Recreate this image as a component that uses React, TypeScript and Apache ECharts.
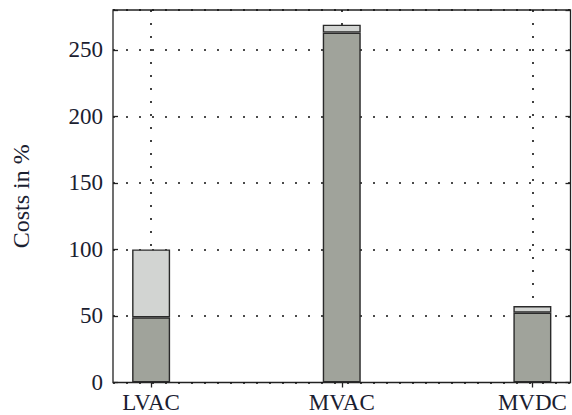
import React, { useEffect, useRef } from "react";
import * as echarts from "echarts";

const categories = ["LVAC", "MVAC", "MVDC"];
const lowerValues = [49, 263, 52.5];
const upperValues = [51, 6, 5];
const yTicks = [0, 50, 100, 150, 200, 250];

// category slots: 13 evenly spaced positions, categories at slots 1, 6, 11
const slotCount = 13;
const categorySlots = [1, 6, 11];

export default function App() {
  const ref = useRef<HTMLDivElement>(null);
  useEffect(() => {
    if (!ref.current) return;
    const chart = echarts.init(ref.current, null, { renderer: "svg" });
    const slotLabels: string[] = Array.from({ length: slotCount }, () => "");
    categorySlots.forEach((s, i) => (slotLabels[s] = categories[i]));
    const toSlots = (vals: number[]) => {
      const arr: (number | string)[] = Array.from({ length: slotCount }, () => "-");
      categorySlots.forEach((s, i) => (arr[s] = vals[i]));
      return arr;
    };
    const isCat = (idx: number) => categorySlots.includes(idx);
    const font = "'Liberation Serif', 'DejaVu Serif', serif";
    const borderColor = "#2a2a2a";
    chart.setOption({
      animation: false,
      grid: {
        left: 113,
        right: 1.5,
        top: 10,
        bottom: 32.5,
        show: true,
        borderColor: "#222",
        borderWidth: 1.3,
        containLabel: false,
      },
      xAxis: [
        {
          type: "category",
          data: slotLabels,
          boundaryGap: false,
          axisLine: { show: false },
          axisTick: { show: true, inside: true, length: 5, interval: (i: number) => isCat(i), lineStyle: { color: "#222", width: 1.3 } },
          axisLabel: {
            interval: (i: number) => isCat(i),
            color: "#1a2030",
            fontFamily: font,
            fontSize: 23,
            margin: 8,
          },
          splitLine: {
            show: true,
            interval: (i: number) => isCat(i),
            lineStyle: { color: "#111", width: 1.6, type: [2, 11] },
          },
        },
        {
          type: "category",
          data: slotLabels,
          boundaryGap: false,
          position: "top",
          axisLine: { show: false },
          axisTick: { show: true, inside: true, length: 5, interval: (i: number) => isCat(i), lineStyle: { color: "#222", width: 1.3 } },
          axisLabel: { show: false },
          splitLine: { show: false },
        },
      ],
      yAxis: [
        {
          type: "value",
          min: 0,
          max: 280,
          interval: 50,
          name: "Costs in %",
          nameLocation: "middle",
          nameGap: 80,
          nameTextStyle: { fontFamily: font, fontSize: 24, color: "#1a2030" },
          axisLine: { show: false },
          axisTick: { show: true, inside: true, length: 5, lineStyle: { color: "#222", width: 1.3 } },
          axisLabel: {
            color: "#1a2030",
            fontFamily: font,
            fontSize: 23,
            margin: 10,
            formatter: (v: number) => (yTicks.includes(v) ? String(v) : ""),
          },
          splitLine: {
            show: true,
            lineStyle: { color: "#111", width: 1.6, type: [2, 11] },
          },
        },
        {
          type: "value",
          min: 0,
          max: 280,
          interval: 50,
          position: "right",
          axisLine: { show: false },
          axisTick: { show: true, inside: true, length: 5, lineStyle: { color: "#222", width: 1.3 } },
          axisLabel: { show: false },
          splitLine: { show: false },
        },
      ],
      series: [
        {
          type: "bar",
          stack: "total",
          barWidth: 38,
          data: toSlots(lowerValues),
          itemStyle: { color: "#a0a39b", borderColor, borderWidth: 1.4 },
          z: 3,
        },
        {
          type: "bar",
          stack: "total",
          barWidth: 38,
          data: toSlots(upperValues),
          itemStyle: { color: "#d2d4d2", borderColor, borderWidth: 1.4 },
          z: 3,
        },
      ],
    });
    return () => chart.dispose();
  }, []);
  return (
    <div
      ref={ref}
      style={{ position: "fixed", left: 0, top: 0, width: 572, height: 415, background: "#fff" }}
    />
  );
}
